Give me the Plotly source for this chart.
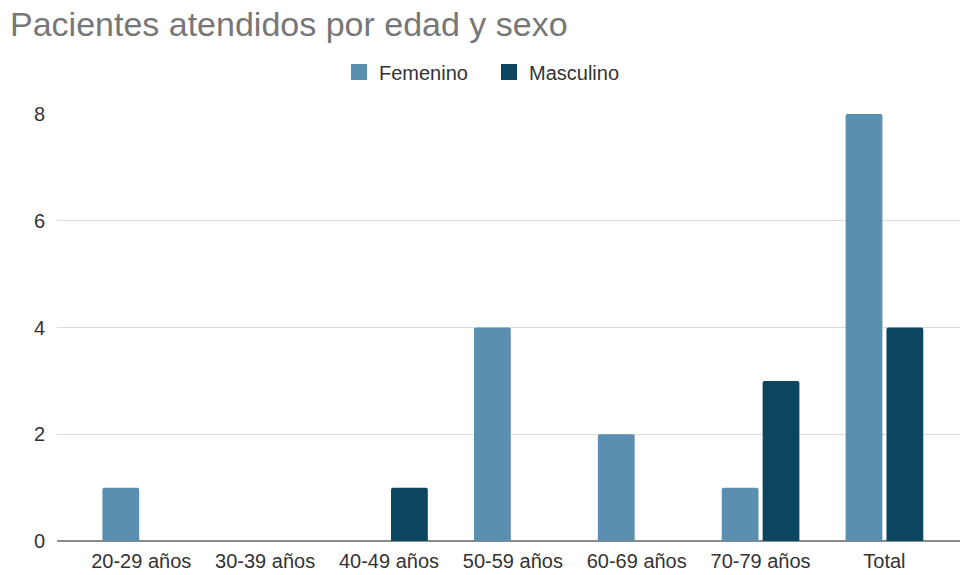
import plotly.graph_objects as go

categories = ["20-29 años", "30-39 años", "40-49 años", "50-59 años", "60-69 años", "70-79 años", "Total"]
series_names = ["Femenino", "Masculino"]
femenino = [1, 0, 0, 4, 2, 1, 8]
masculino = [0, 0, 1, 0, 0, 3, 4]
y_ticks = [0, 2, 4, 6, 8]
colors = ["#5b8fb0", "#0b4661"]

fig = go.Figure()
for name, vals, col in zip(series_names, [femenino, masculino], colors):
    fig.add_trace(go.Bar(name=name, x=categories, y=vals, marker_color=col,
                         marker_line_width=0, showlegend=False))
# legend entries with larger square swatches
for name, col in zip(series_names, colors):
    fig.add_trace(go.Scatter(name=name, x=[None], y=[None], mode="markers",
                             marker=dict(symbol="square", size=16, color=col)))

font_family = "Liberation Sans, Arial, sans-serif"
fig.update_layout(
    width=960, height=575,
    margin=dict(l=57, r=0, t=114, b=34),
    paper_bgcolor="white", plot_bgcolor="white",
    barmode="group", bargap=0.34, bargroupgap=0.1, barcornerradius=2,
    title=dict(text="Pacientes atendidos por edad y sexo", x=10/960, xanchor="left",
               y=1 - 24/575, yanchor="middle", yref="container",
               font=dict(family=font_family, size=34, color="#777777")),
    legend=dict(orientation="h", x=489/960, xanchor="center", xref="container",
                y=1 - 72/575, yanchor="middle", yref="container",
                font=dict(family=font_family, size=20, color="#333"),
                traceorder="normal", entrywidth=105, entrywidthmode="pixels"),
    font=dict(family=font_family, size=20, color="#333"),
)
fig.update_xaxes(range=[-0.68, 6.61], showgrid=False, showline=False, zeroline=False,
                 ticks="outside", ticklen=2, tickcolor="rgba(0,0,0,0)", automargin=False,
                 tickfont=dict(family=font_family, size=20, color="#333"))
fig.update_yaxes(range=[0, 8], tickvals=y_ticks, showgrid=True, gridcolor="#dcdcdc", gridwidth=1,
                 zeroline=True, zerolinecolor="#8a8a8a", zerolinewidth=2, showline=False,
                 ticks="outside", ticklen=7, tickcolor="rgba(0,0,0,0)", automargin=False,
                 tickfont=dict(family=font_family, size=20, color="#333"))

fig.write_html("out.html")
